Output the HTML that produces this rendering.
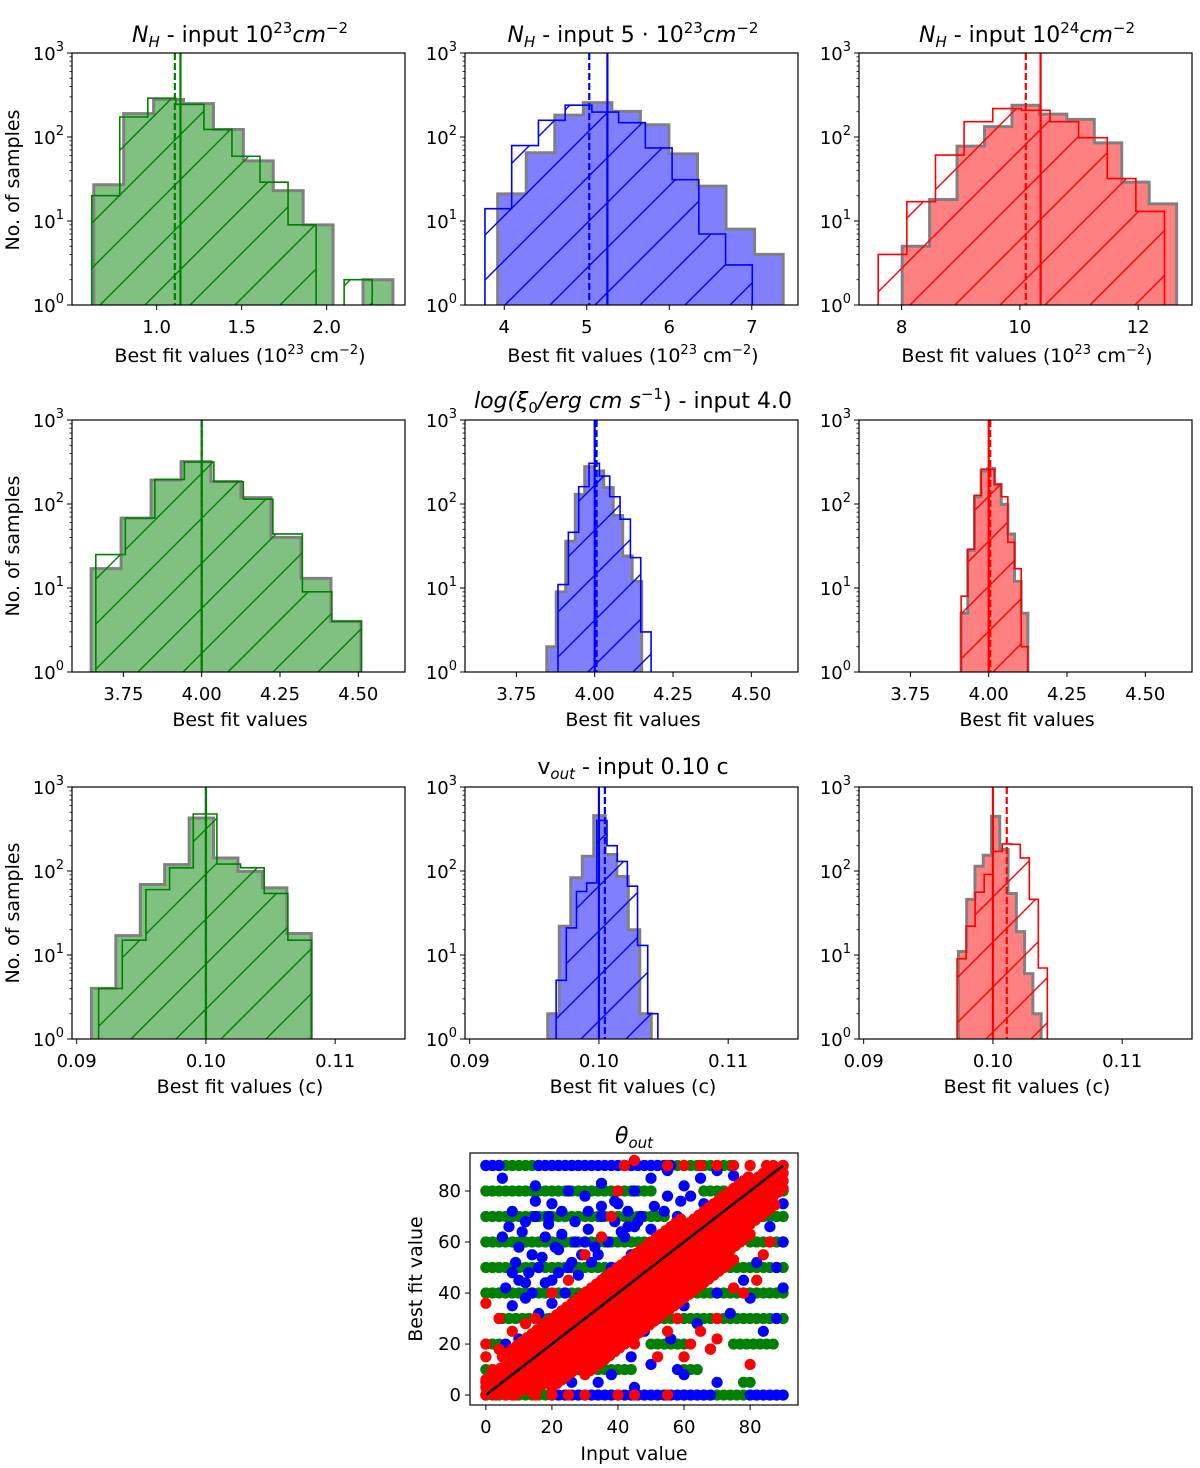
<!DOCTYPE html>
<html><head><meta charset="utf-8"><style>
html,body{margin:0;padding:0;background:#fff}
svg{display:block;font-family:"DejaVu Sans","Liberation Sans",sans-serif}
</style></head><body>
<svg id="fig" width="1200" height="1468" viewBox="0 0 1200 1468" xmlns="http://www.w3.org/2000/svg">
<defs>
<pattern id="hatch-green" patternUnits="userSpaceOnUse" width="45" height="45"><path d="M-5,50 L50,-5 M-5,5 L5,-5 M40,50 L50,40" stroke="#008000" stroke-width="1.4"/></pattern>
<pattern id="hatch-blue" patternUnits="userSpaceOnUse" width="45" height="45"><path d="M-5,50 L50,-5 M-5,5 L5,-5 M40,50 L50,40" stroke="#0000ff" stroke-width="1.4"/></pattern>
<pattern id="hatch-red" patternUnits="userSpaceOnUse" width="45" height="45"><path d="M-5,50 L50,-5 M-5,5 L5,-5 M40,50 L50,40" stroke="#ff0000" stroke-width="1.4"/></pattern>
</defs>
<g id="layer"></g>
<g font-size="22" text-anchor="middle" fill="#000">
<text x="240" y="42"><tspan font-style="italic">N</tspan><tspan font-style="italic" font-size="15" dy="5">H</tspan><tspan dy="-5"> - input 10</tspan><tspan font-size="15" dy="-9">23</tspan><tspan font-style="italic" dy="9">cm</tspan><tspan font-size="15" dy="-9">−2</tspan></text>
<text x="633" y="42"><tspan font-style="italic">N</tspan><tspan font-style="italic" font-size="15" dy="5">H</tspan><tspan dy="-5"> - input 5 · 10</tspan><tspan font-size="15" dy="-9">23</tspan><tspan font-style="italic" dy="9">cm</tspan><tspan font-size="15" dy="-9">−2</tspan></text>
<text x="1027" y="42"><tspan font-style="italic">N</tspan><tspan font-style="italic" font-size="15" dy="5">H</tspan><tspan dy="-5"> - input 10</tspan><tspan font-size="15" dy="-9">24</tspan><tspan font-style="italic" dy="9">cm</tspan><tspan font-size="15" dy="-9">−2</tspan></text>
<text x="633" y="408"><tspan font-style="italic">log(ξ</tspan><tspan font-size="15" dy="5">0</tspan><tspan font-style="italic" dy="-5">/erg cm s</tspan><tspan font-size="15" dy="-9">−1</tspan><tspan dy="9">) - input 4.0</tspan></text>
<text x="633" y="774">v<tspan font-style="italic" font-size="15" dy="5">out</tspan><tspan dy="-5"> - input 0.10 c</tspan></text>
<text x="634" y="1143"><tspan font-style="italic">θ</tspan><tspan font-style="italic" font-size="15" dy="5">out</tspan></text>
</g>
<g font-size="19" text-anchor="middle" fill="#000">
<text x="240" y="362">Best fit values (10<tspan font-size="13" dy="-8">23</tspan><tspan dy="8"> cm</tspan><tspan font-size="13" dy="-8">−2</tspan><tspan dy="8">)</tspan></text>
<text x="633" y="362">Best fit values (10<tspan font-size="13" dy="-8">23</tspan><tspan dy="8"> cm</tspan><tspan font-size="13" dy="-8">−2</tspan><tspan dy="8">)</tspan></text>
<text x="1027" y="362">Best fit values (10<tspan font-size="13" dy="-8">23</tspan><tspan dy="8"> cm</tspan><tspan font-size="13" dy="-8">−2</tspan><tspan dy="8">)</tspan></text>
<text x="240" y="726">Best fit values</text>
<text x="633" y="726">Best fit values</text>
<text x="1027" y="726">Best fit values</text>
<text x="240" y="1093">Best fit values (c)</text>
<text x="633" y="1093">Best fit values (c)</text>
<text x="1027" y="1093">Best fit values (c)</text>
<text x="634" y="1460">Input value</text>
<text transform="translate(19,180) rotate(-90)">No. of samples</text>
<text transform="translate(19,546) rotate(-90)">No. of samples</text>
<text transform="translate(19,913) rotate(-90)">No. of samples</text>
<text transform="translate(422,1279) rotate(-90)">Best fit value</text>
</g>
</svg>
<script>
// ---- histogram data (bin start, bin width, counts) ----
const nh1GrayStart = 0.63, nh1GrayWidth = 0.176;
const nh1GrayCounts = [27,190,280,250,123,52,23,9,0,2];
const nh1OutStart = 0.618, nh1OutWidth = 0.165;
const nh1OutCounts = [20,173,290,245,123,59,29,9,0,2];
const nh1Lines = [1.14, 1.107];
const nh2GrayStart = 3.92, nh2GrayWidth = 0.346;
const nh2GrayCounts = [21,65,182,257,202,140,63,26,8,4];
const nh2OutStart = 3.766, nh2OutWidth = 0.324;
const nh2OutCounts = [14,79,158,239,198,148,74,31,7,3];
const nh2Lines = [5.25, 5.03];
const nh3GrayStart = 8.01, nh3GrayWidth = 0.464;
const nh3GrayCounts = [5,18,78,133,239,187,162,85,29,16];
const nh3OutStart = 7.605, nh3OutWidth = 0.484;
const nh3OutCounts = [4,17,61,152,218,208,152,98,32,13];
const nh3Lines = [10.35, 10.10];
const xi1GrayStart = 3.647, xi1GrayWidth = 0.0957;
const xi1GrayCounts = [17,68,193,320,185,119,40,13,4,1];
const xi1OutStart = 3.662, xi1OutWidth = 0.0942;
const xi1OutCounts = [25,68,196,316,184,114,44,9,4];
const xi1Lines = [4.0, 4.0];
const xi2GrayStart = 3.847, xi2GrayWidth = 0.0303;
const xi2GrayCounts = [2,9,36,130,279,247,157,73,24,12];
const xi2OutStart = 3.883, xi2OutWidth = 0.033;
const xi2OutCounts = [11,46,161,305,215,122,66,23,3];
const xi2Lines = [4.0, 4.006];
const xi3GrayStart = 3.912, xi3GrayWidth = 0.0213;
const xi3GrayCounts = [5,28,122,247,264,171,99,44,12,5];
const xi3OutStart = 3.912, xi3OutWidth = 0.0213;
const xi3OutCounts = [8,29,127,260,260,171,122,35,17,2];
const xi3Lines = [4.0, 4.005];
const v1GrayStart = 0.09114, v1GrayWidth = 0.00189;
const v1GrayCounts = [4,17,69,119,428,143,99,63,18,1];
const v1OutStart = 0.0917, v1OutWidth = 0.00183;
const v1OutCounts = [4,15,60,109,477,121,109,54,15];
const v1Lines = [0.10, 0.10];
const v2GrayStart = 0.09604, v2GrayWidth = 0.00089;
const v2GrayCounts = [2,22,83,150,456,157,86,20,2];
const v2OutStart = 0.09669, v2OutWidth = 0.000787;
const v2OutCounts = [5,21,57,72,400,200,130,66,13,2];
const v2Lines = [0.10, 0.10046];
const v3GrayStart = 0.09733, v3GrayWidth = 0.00064;
const v3GrayCounts = [11,46,114,154,447,180,54,19,6,2];
const v3OutStart = 0.09723, v3OutWidth = 0.000698;
const v3OutCounts = [9,22,56,91,171,210,208,143,46,7];
const v3Lines = [0.10, 0.10107];

// ---- axis tick data ----
const nh1Ticks = [1.0,1.5,2.0], nh1TickLabels = ["1.0","1.5","2.0"];
const nh2Ticks = [4,5,6,7], nh2TickLabels = ["4","5","6","7"];
const nh3Ticks = [8,10,12], nh3TickLabels = ["8","10","12"];
const xiTicks = [3.75,4.0,4.25,4.5], xiTickLabels = ["3.75","4.00","4.25","4.50"];
const vTicks = [0.09,0.10,0.11], vTickLabels = ["0.09","0.10","0.11"];
const logDecades = [0,1,2,3];

// ---- scatter data ----
const greenRows = [[90,0,30],[90,40,75],[80,0,50],[80,66,72],[80,84,90],[70,0,55],[70,84,90],[60,0,60],[60,80,90],[50,0,55],[50,70,90],[40,0,90],[30,5,25],[30,40,90],[20,0,5],[20,50,60],[20,75,88],[10,0,45],[10,60,64],[5,78,81],[0,0,90]];
const blueRows = [[90,0,4],[90,16,44],[90,46,56],[0,20,60],[0,62,68],[0,80,90]];
const blueX = [5,15,8,12,20,25,30,35,40,45,50,55,60,65,70,75,80,85,5,10,14,18,22,26,30,34,38,42,46,50,54,58,62,66,8,12,16,20,24,28,32,36,40,44,4,8,12,16,20,26,10,14,6,40,44,48,50,52,56,58,60,64,68,70,74,78,80,84,88,90,88,90,86,90,72,76,82,30,34,38,45,22,26,70,60,
 7,11,15,19,23,27,31,35,39,43,9,13,17,21,25,29,33,37,41,45,6,10,14,18,22,28,32,36,15,19,23,27,31,35,39,43,47,51,55,59];
const blueY = [85,82,72,68,75,80,78,83,75,80,85,88,82,85,88,86,84,88,62,58,55,62,57,52,60,55,50,62,68,65,72,70,78,75,48,44,50,45,40,47,52,44,48,55,30,35,38,32,36,33,22,18,20,20,15,25,12,30,22,10,35,28,18,40,32,45,38,25,30,42,50,60,66,75,55,60,52,12,5,8,3,10,5,5,8,
 66,64,70,67,63,60,65,70,68,72,52,48,54,58,50,55,58,60,64,66,42,45,40,44,48,38,42,46,76,70,72,68,72,74,76,66,70,74,78,76];
const redStrips = [[0,0,90],[3,0,88],[-3,3,90],[-6,6,90],[-9,9,90],[6,0,80],[-13,14,88],[-17,20,80],[10,5,60],[-22,30,75]];
const redX = [0,4,8,12,15,20,25,30,35,38,40,42,45,55,60,65,70,75,80,85,90,88,86,84,82,78,75,70,65,62,68,58,55,50,52,60,45,70,80,0,2,5,10,15,20,25,30,40,45,55,0,3,8,0,0,4,8,12,14,18];
const redY = [36,30,25,28,30,40,45,55,62,70,80,90,92,90,90,90,90,90,90,90,90,80,60,55,45,40,42,30,25,20,18,30,25,32,15,15,20,22,12,15,10,5,2,0,0,0,0,0,0,0,0,0,0,5,20,18,14,5,12,8];
const scatterXTicks = [0,20,40,60,80], scatterYTicks = [0,20,40,60,80];
</script>
<script>
const NS = "http://www.w3.org/2000/svg";
const layer = document.getElementById("layer");
function mk(tag, attrs, parent){ const e=document.createElementNS(NS,tag); for(const k in attrs) e.setAttribute(k,attrs[k]); (parent||layer).appendChild(e); return e; }
const LEFTS=[72,465,859], TOPS=[53,420,787], W=333, H=252;
const colors={green:"#008000",blue:"#0000ff",red:"#ff0000"};
const fills={green:"#80c080",blue:"#8080ff",red:"#ff8080"};
let clipId=0;

function panel(row,col,dom,ticks,labels,color,gray,out,lines){
  const L=LEFTS[col], T=TOPS[row], B=T+H, R=L+W;
  const g=mk("g",{});
  
  
  const xs=v=>L+(v-dom[0])/(dom[1]-dom[0])*W;
  const ys=c=>c<=1?B+2:B-Math.log10(c)/3*H;
  const cid="clip"+(clipId++);
  const cp=mk("clipPath",{id:cid},g); mk("rect",{x:L,y:T,width:W,height:H},cp);
  const pg=mk("g",{"clip-path":"url(#"+cid+")"},g);
  function stepPath(start,width,counts){
    let d="M"+xs(start)+","+(B+2);
    counts.forEach((c,i)=>{ const y=ys(c); d+=" L"+xs(start+i*width)+","+y+" L"+xs(start+(i+1)*width)+","+y; });
    d+=" L"+xs(start+counts.length*width)+","+(B+2)+" Z"; return d;
  }
  const f=mk("path",{d:stepPath(gray[0],gray[1],gray[2]),fill:fills[color],stroke:"#808080","stroke-width":3,"stroke-linejoin":"miter"},pg);
  
  
  const o=mk("path",{d:stepPath(out[0],out[1],out[2]),fill:"url(#hatch-"+color+")",stroke:colors[color],"stroke-width":1.6},pg);
  
  
  const sl=mk("line",{x1:xs(lines[0]),x2:xs(lines[0]),y1:T,y2:B,stroke:colors[color],"stroke-width":2.2},pg);
  
  
  const dl=mk("line",{x1:xs(lines[1]),x2:xs(lines[1]),y1:T,y2:B,stroke:colors[color],"stroke-width":2.2,"stroke-dasharray":"7,3"},pg);
  
  
  const fr=mk("rect",{x:L,y:T,width:W,height:H,fill:"none",stroke:"#000","stroke-width":1.2},g);
  
  
  ticks.forEach((t,i)=>{
    const x=xs(t); mk("line",{x1:x,x2:x,y1:B,y2:B+5,stroke:"#000","stroke-width":1},g);
    const tx=mk("text",{x:x,y:B+28,"font-size":18,"text-anchor":"middle"},g); tx.textContent=labels[i];
    
    
  });
  logDecades.forEach(d=>{
    const y=B-d/3*H;
    mk("line",{x1:L-5,x2:L,y1:y,y2:y,stroke:"#000","stroke-width":1},g);
    const tx=mk("text",{x:L-8,y:y+7,"font-size":18,"text-anchor":"end"},g);
    
    
    const a=mk("tspan",{},tx); a.textContent="10";
    const b=mk("tspan",{"font-size":13,dy:-9},tx); b.textContent=String(d);
    if(d<3) for(let m=2;m<10;m++){ const yy=B-(d+Math.log10(m))/3*H; mk("line",{x1:L-2.5,x2:L,y1:yy,y2:yy,stroke:"#000","stroke-width":0.8},g); }
  });
}
panel(0,0,[0.502,2.461],nh1Ticks,nh1TickLabels,"green",[nh1GrayStart,nh1GrayWidth,nh1GrayCounts],[nh1OutStart,nh1OutWidth,nh1OutCounts],nh1Lines);
panel(0,1,[3.524,7.56],nh2Ticks,nh2TickLabels,"blue",[nh2GrayStart,nh2GrayWidth,nh2GrayCounts],[nh2OutStart,nh2OutWidth,nh2OutCounts],nh2Lines);
panel(0,2,[7.28,12.91],nh3Ticks,nh3TickLabels,"red",[nh3GrayStart,nh3GrayWidth,nh3GrayCounts],[nh3OutStart,nh3OutWidth,nh3OutCounts],nh3Lines);
panel(1,0,[3.586,4.649],xiTicks,xiTickLabels,"green",[xi1GrayStart,xi1GrayWidth,xi1GrayCounts],[xi1OutStart,xi1OutWidth,xi1OutCounts],xi1Lines);
panel(1,1,[3.586,4.649],xiTicks,xiTickLabels,"blue",[xi2GrayStart,xi2GrayWidth,xi2GrayCounts],[xi2OutStart,xi2OutWidth,xi2OutCounts],xi2Lines);
panel(1,2,[3.586,4.649],xiTicks,xiTickLabels,"red",[xi3GrayStart,xi3GrayWidth,xi3GrayCounts],[xi3OutStart,xi3OutWidth,xi3OutCounts],xi3Lines);
panel(2,0,[0.08964,0.1154],vTicks,vTickLabels,"green",[v1GrayStart,v1GrayWidth,v1GrayCounts],[v1OutStart,v1OutWidth,v1OutCounts],v1Lines);
panel(2,1,[0.08964,0.1154],vTicks,vTickLabels,"blue",[v2GrayStart,v2GrayWidth,v2GrayCounts],[v2OutStart,v2OutWidth,v2OutCounts],v2Lines);
panel(2,2,[0.08964,0.1154],vTicks,vTickLabels,"red",[v3GrayStart,v3GrayWidth,v3GrayCounts],[v3OutStart,v3OutWidth,v3OutCounts],v3Lines);

// scatter
(function(){
  const L=470,T=1153,W2=328,H2=252,B=T+H2;
  const xd=[-4.8,94.5], yd=[-3.9,94.9];
  const xs=v=>L+(v-xd[0])/(xd[1]-xd[0])*W2;
  const ys=v=>B-(v-yd[0])/(yd[1]-yd[0])*H2;
  const g=mk("g",{});
  
  
  const cp=mk("clipPath",{id:"sclip"},g); mk("rect",{x:L,y:T,width:W2,height:H2},cp);
  const pg=mk("g",{"clip-path":"url(#sclip)"},g);
  function dot(x,y,c,name){ const e=mk("circle",{cx:xs(x),cy:ys(y),r:5.6,fill:c},pg);
    
     }
  function rows(arr,c,name){ arr.forEach(r=>{ for(let x=r[1];x<=r[2];x+=2) dot(x,r[0],c,name); }); }
  rows(greenRows,"#008000","green-point");
  rows(blueRows,"#0000ff","blue-point");
  blueX.forEach((x,i)=>dot(x,blueY[i],"#0000ff","blue-point"));
  redStrips.forEach(s=>{ for(let x=s[1];x<=s[2];x+=1.5) dot(x,x+s[0],"#ff0000","red-point"); });
  redX.forEach((x,i)=>dot(x,redY[i],"#ff0000","red-point"));
  const ln=mk("line",{x1:xs(0),y1:ys(0),x2:xs(90),y2:ys(90),stroke:"#000","stroke-width":2.5},pg);
  
  
  const fr=mk("rect",{x:L,y:T,width:W2,height:H2,fill:"none",stroke:"#000","stroke-width":1.2},g);
  
  
  scatterXTicks.forEach(t=>{ const x=xs(t); mk("line",{x1:x,x2:x,y1:B,y2:B+5,stroke:"#000"},g);
    const tx=mk("text",{x:x,y:B+28,"font-size":18,"text-anchor":"middle"},g); tx.textContent=String(t);
    
     });
  scatterYTicks.forEach(t=>{ const y=ys(t); mk("line",{x1:L-5,x2:L,y1:y,y2:y,stroke:"#000"},g);
    const tx=mk("text",{x:L-9,y:y+6,"font-size":18,"text-anchor":"end"},g); tx.textContent=String(t);
    
     });
})();
</script>
</body></html>
